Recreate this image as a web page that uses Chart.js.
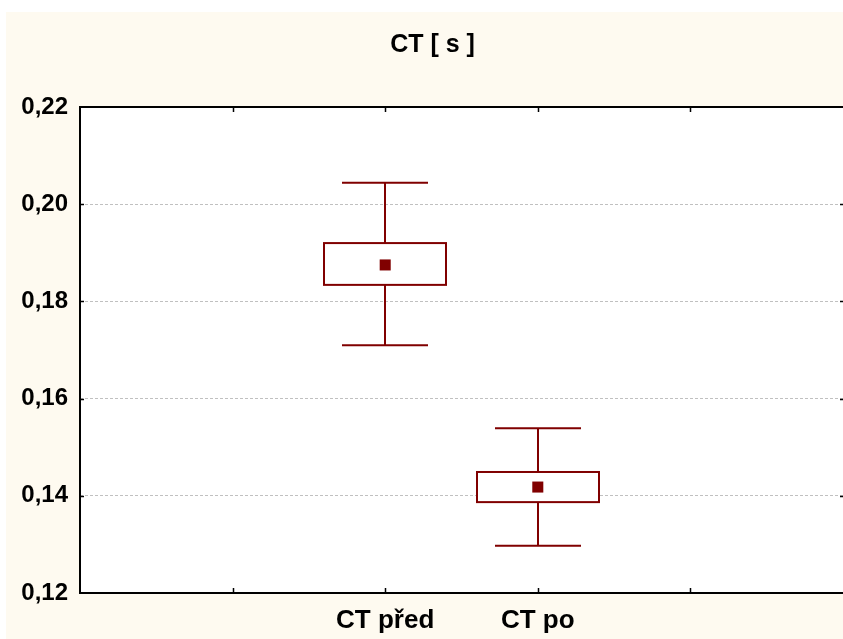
<!DOCTYPE html>
<html>
<head>
<meta charset="utf-8">
<script src="https://cdn.jsdelivr.net/npm/chart.js@4/dist/chart.umd.min.js"></script>
<style>
  body { margin: 0; background: #ffffff; }
</style>
</head>
<body>
<canvas id="ct_chart" width="843" height="639"></canvas>
<script>
// data
const categories = ['CT před', 'CT po'];
const positions = [2, 3];          // slot on the x axis (0..5)
const means = [0.1875, 0.1418];
const boxLow = [0.1834, 0.1387];
const boxHigh = [0.1920, 0.1449];
const whiskerLow = [0.1710, 0.1297];
const whiskerHigh = [0.2044, 0.1539];
const yTicks = [0.12, 0.14, 0.16, 0.18, 0.20, 0.22];

const dark = '#800000';
const fontFam = '"Liberation Sans", Arial, sans-serif';

// background: white margin, cream panel, white plot
const fondo = {
    id: 'fondo',
    beforeDraw(chart) {
        const ctx = chart.ctx;
        const a = chart.chartArea;
        ctx.save();
        ctx.fillStyle = '#ffffff';
        ctx.fillRect(0, 0, chart.width, chart.height);
        ctx.fillStyle = '#fefaf0';
        ctx.fillRect(6, 12, chart.width - 6, chart.height - 12);
        ctx.fillStyle = '#ffffff';
        ctx.fillRect(a.left, a.top, a.right - a.left, a.bottom - a.top);
        ctx.restore();
    }
};

// boxes and whiskers
const cajas = {
    id: 'cajas',
    beforeDatasetsDraw(chart) {
        const ctx = chart.ctx;
        const x = chart.scales.x;
        const y = chart.scales.y;
        ctx.save();
        ctx.strokeStyle = dark;
        ctx.lineWidth = 2;
        positions.forEach((p, i) => {
            const cx = Math.round(x.getPixelForValue(p));
            const top = y.getPixelForValue(boxHigh[i]);
            const bot = y.getPixelForValue(boxLow[i]);
            const wt = y.getPixelForValue(whiskerHigh[i]);
            const wb = y.getPixelForValue(whiskerLow[i]);
            // whiskers
            ctx.beginPath();
            ctx.moveTo(cx, top); ctx.lineTo(cx, wt);
            ctx.moveTo(cx - 43, wt); ctx.lineTo(cx + 43, wt);
            ctx.moveTo(cx, bot); ctx.lineTo(cx, wb);
            ctx.moveTo(cx - 43, wb); ctx.lineTo(cx + 43, wb);
            ctx.stroke();
            // box
            ctx.fillStyle = '#ffffff';
            ctx.fillRect(cx - 61, top, 122, bot - top);
            ctx.strokeRect(cx - 61, top, 122, bot - top);
        });
        ctx.restore();
    }
};

// frame and inward tick marks
const marco = {
    id: 'marco',
    afterDraw(chart) {
        const ctx = chart.ctx;
        const a = chart.chartArea;
        const x = chart.scales.x;
        const y = chart.scales.y;
        ctx.save();
        ctx.strokeStyle = '#000000';
        ctx.lineWidth = 2;
        ctx.beginPath();
        ctx.moveTo(a.right + 2, a.top); ctx.lineTo(a.left, a.top);
        ctx.lineTo(a.left, a.bottom); ctx.lineTo(a.right + 2, a.bottom);
        ctx.stroke();
        ctx.lineWidth = 1.5;
        ctx.beginPath();
        [1, 2, 3, 4].forEach(v => {
            const px = Math.round(x.getPixelForValue(v)) + 0.5;
            ctx.moveTo(px, a.bottom); ctx.lineTo(px, a.bottom - 5);
            ctx.moveTo(px, a.top); ctx.lineTo(px, a.top + 5);
        });
        yTicks.slice(1, -1).forEach(v => {
            const py = Math.round(y.getPixelForValue(v)) + 0.5;
            ctx.moveTo(a.left, py); ctx.lineTo(a.left + 4, py);
            ctx.moveTo(a.right - 3, py); ctx.lineTo(a.right, py);
        });
        ctx.stroke();
        ctx.restore();
    }
};

const ctx = document.getElementById('ct_chart').getContext('2d');
const ctChart = new Chart(ctx, {
    type: 'scatter',
    data: {
        datasets: [{
            label: 'Průměr',
            data: positions.map((p, i) => ({ x: p, y: means[i] })),
            pointStyle: 'rect',
            pointRadius: 7.8,
            pointHoverRadius: 7.8,
            backgroundColor: dark,
            borderColor: dark,
            borderWidth: 0
        }]
    },
    options: {
        responsive: false,
        animation: false,
        layout: {
            autoPadding: false,
            padding: { left: 22, right: 0, top: 0, bottom: 0 }
        },
        plugins: {
            legend: { display: false },
            tooltip: { enabled: false },
            title: {
                display: true,
                text: 'CT [ s ]',
                color: '#000000',
                font: { family: fontFam, size: 25, weight: 'bold', lineHeight: 1.2 },
                padding: { top: 30, bottom: 47 }
            }
        },
        scales: {
            x: {
                type: 'linear',
                min: 0,
                max: 5,
                afterBuildTicks(scale) {
                    scale.ticks = positions.map(p => ({ value: p }));
                },
                afterFit(scale) {
                    scale.height = 46;
                    scale.paddingLeft = 0;
                    scale.paddingRight = 0;
                },
                grid: { display: false },
                border: { display: false },
                ticks: {
                    autoSkip: false,
                    maxRotation: 0,
                    padding: 4,
                    color: '#000000',
                    font: { family: fontFam, size: 26, weight: 'bold' },
                    callback: function(value) {
                        const i = positions.indexOf(value);
                        return i >= 0 ? categories[i] : '';
                    }
                }
            },
            y: {
                min: 0.12,
                max: 0.22,
                afterBuildTicks(scale) {
                    scale.ticks = yTicks.map(v => ({ value: v }));
                },
                afterFit(scale) { scale.width = 58; },
                grid: {
                    color: '#c0c0c0',
                    lineWidth: 1,
                    drawTicks: false
                },
                border: { display: false, dash: [3, 2] },
                ticks: {
                    padding: 12,
                    color: '#000000',
                    font: { family: fontFam, size: 24, weight: 'bold' },
                    callback: function(value) {
                        return value.toFixed(2).replace('.', ',');
                    }
                }
            }
        }
    },
    plugins: [fondo, cajas, marco]
});
</script>
</body>
</html>
